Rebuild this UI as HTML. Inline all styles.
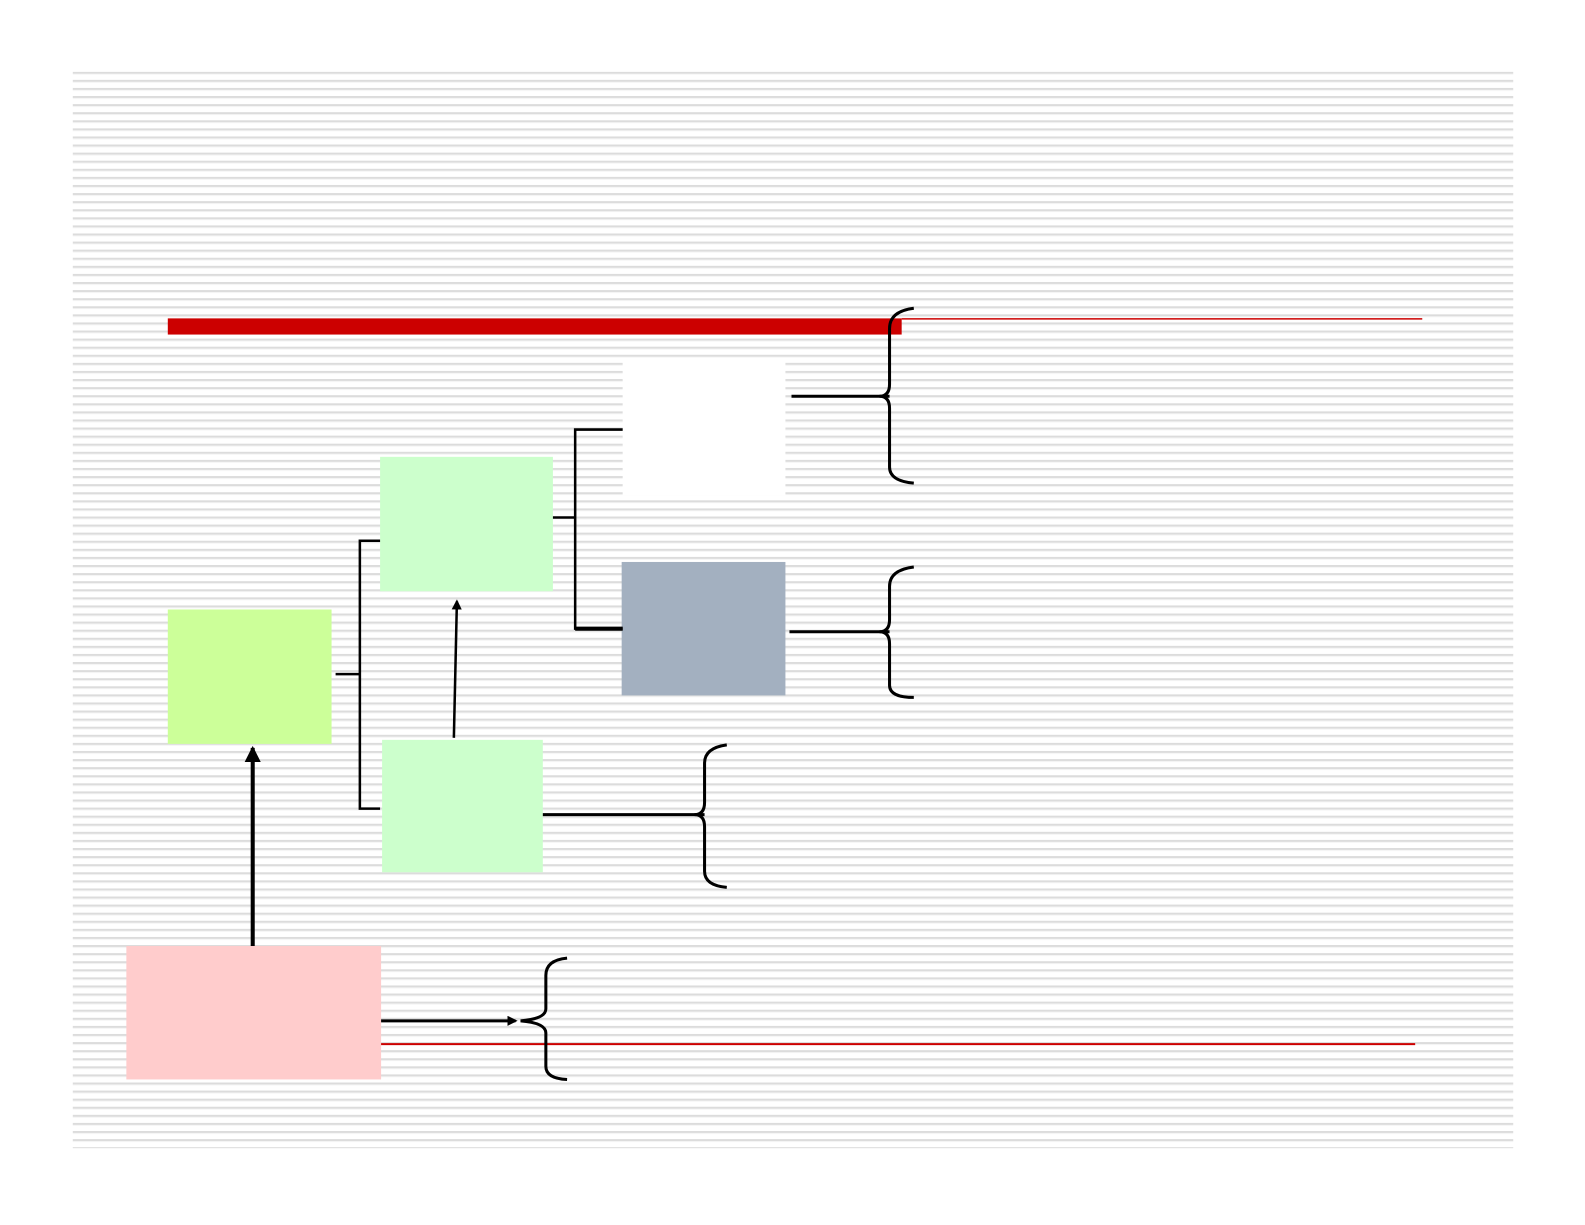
<!DOCTYPE html>
<html><head><style>
body{margin:0;background:#fff;width:1585px;height:1225px;overflow:hidden;position:relative}
svg{position:absolute;left:0;top:0}
</style></head><body>
<svg width="1585" height="1225" viewBox="0 0 1568 1212" preserveAspectRatio="none">
<defs>
<pattern id="p" x="0" y="71" width="10" height="8" patternUnits="userSpaceOnUse"><rect width="10" height="2" fill="#dcdcdc"/><rect y="2" width="10" height="1" fill="#f3f3f3"/><rect y="3" width="10" height="5" fill="#fff"/></pattern>
<marker id="a" markerWidth="10" markerHeight="10" refX="8" refY="5" orient="auto" markerUnits="userSpaceOnUse"><path d="M0,0 L10,5 L0,10z" fill="#000"/></marker>
<marker id="b" markerWidth="16" markerHeight="16" refX="14" refY="8" orient="auto" markerUnits="userSpaceOnUse"><path d="M0,0 L16,8 L0,16z" fill="#000"/></marker></defs>
<rect x="72" y="71" width="1425" height="1065" fill="url(#p)"/>
<rect x="166" y="315" width="726" height="16" fill="#cc0000"/>
<line x1="892" y1="315.5" x2="1407" y2="315.5" stroke="#cc0000" stroke-width="1.5"/>
<rect x="616" y="356" width="161" height="134" fill="#fff"/>
<rect x="376" y="452" width="171" height="133" fill="#ccffcc"/>
<rect x="615" y="556" width="162" height="132" fill="#a3b0c0"/>
<rect x="166" y="603" width="162" height="133" fill="#ccff99"/>
<rect x="378" y="732" width="159" height="131" fill="#ccffcc"/>
<rect x="125" y="936" width="252" height="132" fill="#ffcccc"/>
<line x1="377" y1="1033" x2="1400" y2="1033" stroke="#cc0000" stroke-width="2"/>
<g fill="none" stroke="#000" stroke-width="3">
<path d="M904,305 Q880,308 880,325 V380 Q880,392 870,392 Q880,392 880,404 V462 Q880,476 904,478"/>
<line x1="783" y1="392" x2="880" y2="392"/>
<path d="M904,561 Q880,564 880,580 V613 Q880,625 870,625 Q880,625 880,637 V678 Q880,690 904,690"/>
<line x1="781" y1="625" x2="880" y2="625"/>
<path d="M719,737 Q697,740 697,755 V794 Q697,806 687,806 Q697,806 697,818 V862 Q697,876 719,878"/>
<line x1="537" y1="806" x2="697" y2="806"/>
<path d="M561,948 Q540,950 540,965 V998 Q540,1008 515,1010 Q540,1012 540,1022 V1055 Q540,1067 561,1068"/>
<line x1="377" y1="1010" x2="510" y2="1010" marker-end="url(#a)"/>
<path d="M332,667 H356 M376,535 H356 V800 H376" stroke-width="2.5"/>
<path d="M547,512 H569 M616,425 H569 V622 H616" stroke-width="2.5"/>
<line x1="616" y1="622" x2="569" y2="622" stroke-width="4"/>
<line x1="449" y1="730" x2="452" y2="595" stroke-width="2.5" marker-end="url(#a)"/>
<line x1="250" y1="936" x2="250" y2="740" stroke-width="4" marker-end="url(#b)"/>
</g>
</svg>
</body></html>
